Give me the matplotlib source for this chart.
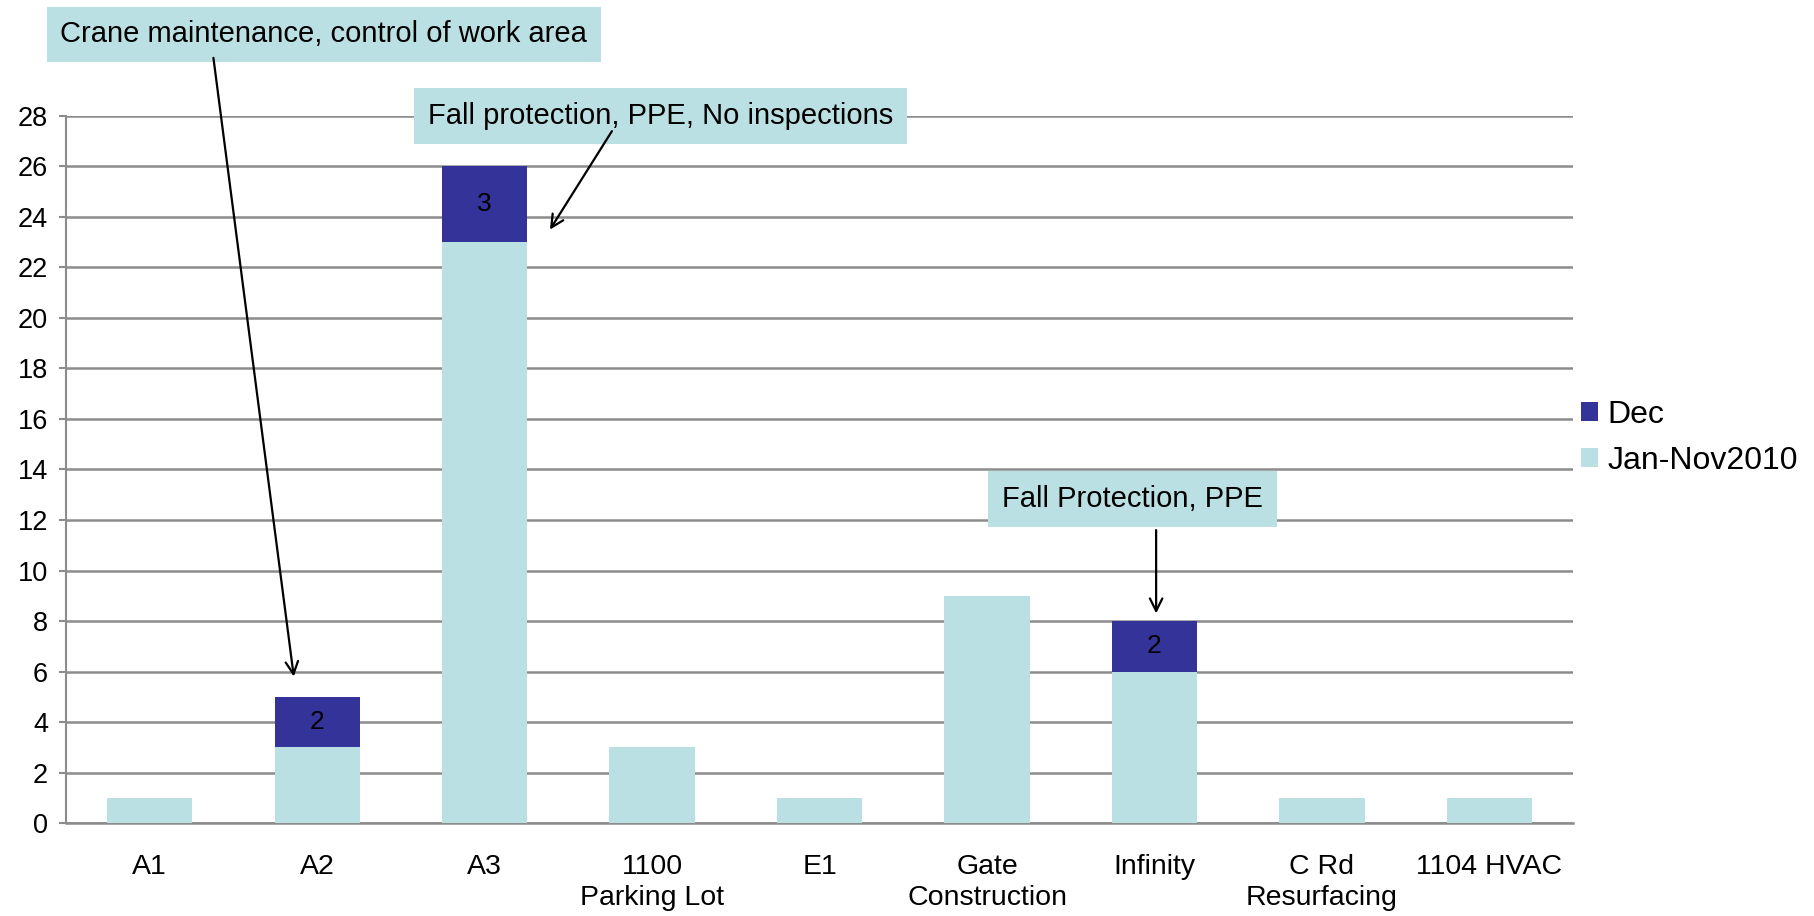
import matplotlib.pyplot as plt
import numpy as np

plt.rcParams['font.family'] = ['Liberation Sans', 'DejaVu Sans']

# data
sites = ["A1", "A2", "A3", "1100\nParking Lot", "E1", "Gate\nConstruction",
         "Infinity", "C Rd\nResurfacing", "1104 HVAC"]
jan_nov = [1, 3, 23, 3, 1, 9, 6, 1, 1]
dec = [0, 2, 3, 0, 0, 0, 2, 0, 0]

notes = ["Crane maintenance, control of work area",
         "Fall protection, PPE, No inspections",
         "Fall Protection, PPE"]
note_pos = [(1.04, 31.23), (3.05, 28.0), (5.87, 12.83)]
arrow_from = [(0.38, 30.3), (2.76, 27.4), (6.01, 11.6)]
arrow_to = [(0.86, 5.8), (2.39, 23.5), (6.01, 8.3)]

light = "#BBE0E3"
dark = "#333399"
grey = "#8C8C8C"

fig = plt.figure(figsize=(18.15, 9.16), dpi=100)
ax = fig.add_axes([0.0364, 0.1015, 0.8303, 0.7719])

x = np.arange(len(sites))
b1 = ax.bar(x, jan_nov, width=0.51, color=light, label="Jan-Nov2010", zorder=3)
b2 = ax.bar(x, dec, width=0.51, bottom=jan_nov, color=dark, label="Dec", zorder=3)

for i in range(len(sites)):
    if dec[i] > 0:
        ax.text(x[i], jan_nov[i] + dec[i] / 2, str(dec[i]), ha="center", va="center",
                fontsize=19, zorder=4)

ax.set_xlim(-0.5, len(sites) - 0.5)
ax.set_ylim(0, 28)
ax.set_yticks(range(0, 29, 2))
ax.set_xticks(x)
ax.set_xticklabels(sites, fontsize=20.5, linespacing=1.25)
ax.tick_params(axis="y", labelsize=19.5, length=5, color=grey, width=1.5, pad=8)
ax.tick_params(axis="x", length=0, pad=22)
ax.yaxis.grid(True, color=grey, linewidth=1.8, zorder=0)
ax.set_axisbelow(True)
for s in ["top", "right"]:
    ax.spines[s].set_visible(False)
ax.spines["left"].set_color(grey)
ax.spines["left"].set_linewidth(1.5)
ax.spines["bottom"].set_color(grey)
ax.spines["bottom"].set_linewidth(1.8)

for t, p in zip(notes, note_pos):
    ax.text(p[0], p[1], t, ha="center", va="center", fontsize=21, zorder=6,
            bbox=dict(boxstyle="square,pad=0.47", facecolor=light, edgecolor="none"),
            clip_on=False)

for a, b in zip(arrow_from, arrow_to):
    ax.annotate("", xy=b, xytext=a, annotation_clip=False, zorder=7,
                arrowprops=dict(arrowstyle="->,head_length=0.9,head_width=0.45",
                                color="black", lw=1.6, shrinkA=0, shrinkB=0))

handles = [b2, b1]
fig.legend(handles, ["Dec", "Jan-Nov2010"], loc="center left",
           bbox_to_anchor=(0.855, 0.522), frameon=False, fontsize=23,
           handlelength=0.55, handleheight=0.55, handletextpad=0.3, labelspacing=0.5)

fig.savefig("out.png", dpi=100)
